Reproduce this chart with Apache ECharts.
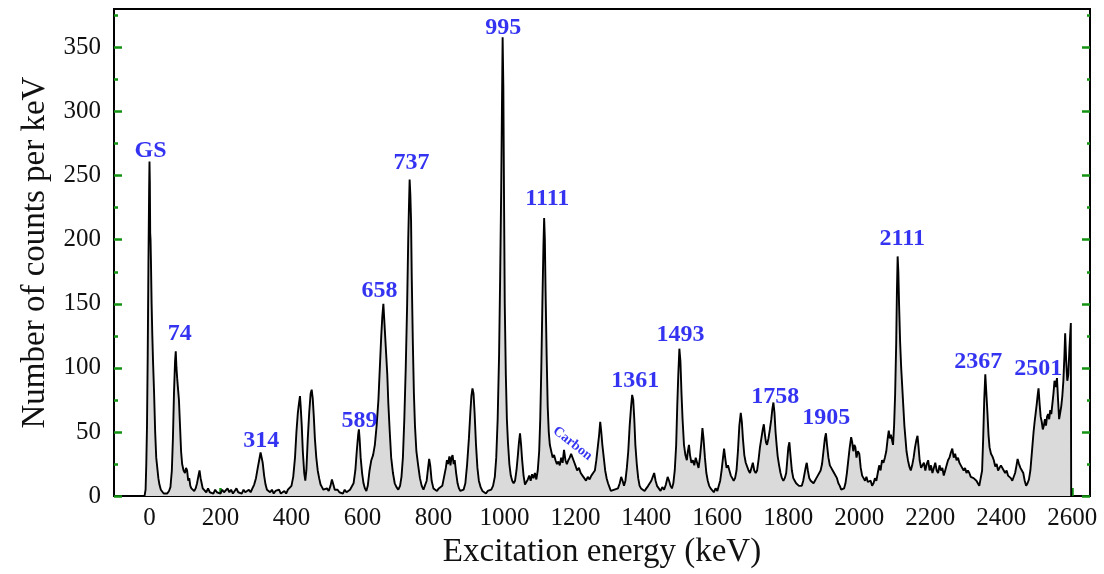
<!DOCTYPE html>
<html><head><meta charset="utf-8">
<script src="https://cdn.jsdelivr.net/npm/echarts@6/dist/echarts.min.js"></script>
<style>html,body{margin:0;padding:0;background:#fff}#c{width:1104px;height:574px}</style>
</head><body><div id="c"></div>
<script>
const xMajorTicks = [0,200,400,600,800,1000,1200,1400,1600,1800,2000,2200,2400,2600];
const xMinorTicks = [100,300,500,700,900,1100,1300,1500,1700,1900,2100,2300,2500];
const yMajorTicks = [0,50,100,150,200,250,300,350];
const yMinorTicks = [25,75,125,175,225,275,325,375];

// [excitation energy (keV), counts per keV]
const spectrum = [
[-14,0],[-11,5],[-9,25],[-7,55],[-5,110],[-3,180],[-1,240],[0,261],[1,245],[2,205],[3,200],[4,185],[6,150],[8,125],[10,105],[13,80],[16,50],[19,30],[22,22],[25,14],[28,9],[32,5],[36,4],[40,2],[45,3],[50,2],[55,4],[59,7],[63,20],[66,45],[69,80],[72,105],[74,113],[76,100],[78,92],[80,85],[83,75],[86,55],[89,35],[92,25],[96,20],
[100,18],[103,22],[106,20],[109,12],[112,14],[115,8],[118,6],[122,5],[126,4],[130,6],[134,10],[138,16],[141,20],[144,14],[147,10],[150,6],[155,5],[160,3],[165,6],[170,3],[175,4],[180,2],[185,5],[190,3],[195,4],
[200,2],[205,5],[210,3],[215,4],[220,6],[225,3],[230,5],[235,2],[240,4],[245,6],[250,3],[255,4],[260,2],[265,5],[270,3],[275,4],[280,5],[285,3],[290,6],[295,9],
[300,14],[305,22],[309,28],[313,34],[316,33],[319,26],[323,16],[327,9],[331,5],[335,4],[340,3],[345,5],[350,2],[355,4],[360,3],[365,5],[370,2],[375,3],[380,4],[385,2],[390,5],[395,4],
[400,8],[405,15],[410,30],[414,50],[418,65],[421,72],[424,78],[426,70],[429,55],[432,35],[436,18],[439,12],[442,20],[446,45],[450,65],[454,80],[457,83],[460,76],[463,62],[466,45],[470,30],[474,20],[478,14],[482,9],[486,7],[490,5],[495,4],
[500,6],[505,4],[510,8],[514,13],[518,9],[522,5],[526,4],[530,5],[535,3],[540,4],[545,2],[550,5],[555,3],[560,4],[565,5],[570,6],[575,10],[580,20],[584,35],[588,48],[590,52],[592,45],[595,30],[599,18],
[603,10],[607,6],[611,4],[615,8],[620,20],[625,28],[630,32],[635,40],[640,55],[645,75],[649,100],[653,125],[656,140],[659,150],[661,140],[664,125],[667,110],[670,95],[673,72],[677,50],[681,30],[686,18],[691,10],[696,7],
[701,5],[706,8],[710,15],[714,30],[718,60],[722,100],[726,150],[729,200],[731,225],[733,247],[735,235],[737,215],[739,170],[742,120],[745,80],[748,55],[752,35],[757,24],[762,14],[767,8],[772,5],[777,6],[781,12],[785,22],[788,29],[791,24],[795,12],
[800,6],[805,5],[810,4],[815,6],[820,5],[825,8],[830,15],[835,22],[838,28],[841,25],[845,31],[848,24],[851,30],[854,32],[857,25],[860,28],[864,18],[868,10],[872,6],[876,4],[880,3],[885,5],[890,10],[895,25],
[900,45],[904,65],[907,78],[910,84],[913,80],[916,65],[920,40],[924,22],[928,12],[933,7],[938,4],[943,3],[948,2],[953,4],[958,3],[963,5],[968,8],[973,15],[977,30],[981,60],[985,110],[988,170],[991,240],[993,300],[995,358],[997,320],[999,230],
[1001,150],[1004,95],[1007,60],[1010,42],[1014,25],[1018,16],[1022,12],[1026,10],[1030,12],[1034,20],[1038,32],[1041,42],[1044,49],[1047,40],[1050,28],[1054,16],[1058,9],[1062,8],[1066,13],[1070,16],[1074,12],[1078,17],[1082,14],[1086,18],[1090,13],[1094,20],[1098,35],
[1101,60],[1104,100],[1107,150],[1110,195],[1112,217],[1114,200],[1116,160],[1119,110],[1122,70],[1125,50],[1128,40],[1132,35],[1136,30],[1140,32],[1144,28],[1148,25],[1152,27],[1156,24],[1160,30],[1164,26],[1168,36],[1172,28],[1176,25],[1180,28],[1184,30],[1188,33],[1192,32],[1196,27],
[1200,24],[1205,20],[1210,22],[1215,18],[1220,16],[1225,14],[1230,12],[1235,15],[1240,13],[1245,16],[1250,18],[1255,20],[1259,28],[1263,38],[1267,48],[1270,58],[1273,50],[1276,40],[1280,30],[1284,20],[1288,14],[1292,10],[1296,7],
[1300,4],[1305,3],[1310,5],[1315,4],[1320,6],[1325,10],[1329,15],[1333,12],[1337,8],[1341,12],[1345,22],[1349,35],[1353,55],[1357,70],[1360,79],[1363,75],[1366,60],[1369,40],[1373,25],[1377,14],[1381,8],[1385,6],[1390,5],[1395,4],
[1400,6],[1405,8],[1410,7],[1414,12],[1418,15],[1422,18],[1426,12],[1430,8],[1435,6],[1440,4],[1445,7],[1450,5],[1455,9],[1460,15],[1464,12],[1468,8],[1472,6],[1476,10],[1480,20],[1484,40],[1487,70],[1490,95],[1493,115],[1496,105],[1499,80],
[1502,60],[1506,40],[1510,32],[1514,28],[1517,35],[1520,40],[1523,32],[1527,26],[1531,28],[1535,24],[1539,30],[1543,26],[1547,22],[1551,30],[1555,42],[1558,53],[1561,45],[1565,30],[1569,18],[1573,12],[1577,8],[1581,6],[1585,5],[1590,3],[1595,6],
[1600,4],[1604,8],[1608,12],[1612,20],[1616,30],[1619,37],[1622,30],[1626,22],[1630,24],[1634,20],[1638,16],[1642,14],[1646,12],[1650,14],[1654,20],[1658,35],[1662,55],[1666,65],[1669,58],[1672,45],[1676,32],[1680,26],[1684,23],[1688,20],[1692,18],[1696,22],
[1700,26],[1704,20],[1708,18],[1712,20],[1716,28],[1720,38],[1724,45],[1728,52],[1731,56],[1734,48],[1737,42],[1740,40],[1744,45],[1748,52],[1752,60],[1755,68],[1758,73],[1761,65],[1764,50],[1767,40],[1770,31],[1774,24],[1778,18],[1782,14],[1786,12],[1790,14],[1794,18],[1797,28],
[1800,38],[1803,42],[1806,32],[1810,20],[1814,14],[1818,12],[1822,10],[1826,9],[1830,8],[1834,7],[1838,8],[1842,12],[1846,18],[1850,24],[1852,26],[1855,20],[1859,14],[1863,12],[1867,13],[1871,10],[1875,12],[1879,14],[1883,16],[1887,17],[1891,20],[1895,25],[1899,35],
[1903,45],[1906,49],[1909,40],[1913,30],[1917,24],[1921,22],[1925,20],[1929,18],[1933,19],[1937,14],[1941,10],[1945,8],[1949,5],[1953,4],[1957,6],[1961,10],[1965,18],[1969,28],[1973,38],[1977,46],[1980,42],[1983,35],[1986,40],[1989,38],[1992,30],[1996,35],
[2000,33],[2004,22],[2008,16],[2012,14],[2016,12],[2020,15],[2024,11],[2028,10],[2032,12],[2036,8],[2040,10],[2044,14],[2048,12],[2052,18],[2056,24],[2060,20],[2064,28],[2068,26],[2072,30],[2076,35],[2080,45],[2083,51],[2086,45],[2089,48],[2092,44],[2095,40],[2098,55],
[2101,80],[2104,120],[2106,160],[2108,187],[2110,175],[2112,150],[2115,120],[2118,100],[2121,85],[2124,70],[2127,55],[2130,45],[2133,35],[2137,28],[2141,23],[2145,20],[2149,24],[2153,30],[2157,38],[2161,44],[2164,47],[2167,38],[2170,28],[2174,22],[2178,22],[2182,26],[2186,20],[2190,25],[2194,28],[2198,20],
[2202,24],[2206,18],[2210,22],[2214,26],[2218,20],[2222,18],[2226,24],[2230,20],[2234,22],[2238,16],[2242,20],[2246,24],[2250,28],[2254,30],[2258,34],[2262,37],[2266,30],[2270,33],[2274,28],[2278,30],[2282,26],[2286,24],[2290,23],[2294,20],[2298,22],
[2302,18],[2306,20],[2310,18],[2314,15],[2318,16],[2322,14],[2326,13],[2330,12],[2334,10],[2338,8],[2342,8],[2346,20],[2349,45],[2352,75],[2355,95],[2358,80],[2361,65],[2364,48],[2367,38],[2371,33],[2375,31],[2379,28],[2383,23],[2387,25],[2391,20],[2395,22],[2399,24],
[2403,23],[2407,20],[2411,18],[2415,20],[2419,16],[2423,15],[2427,14],[2431,12],[2435,13],[2439,18],[2443,24],[2446,29],[2450,25],[2454,22],[2458,20],[2462,18],[2466,12],[2470,8],[2474,10],[2478,13],[2482,20],[2485,30],[2488,40],[2491,50],[2494,58],[2497,65],[2500,72],
[2503,80],[2505,84],[2508,72],[2511,62],[2514,58],[2517,52],[2520,55],[2523,60],[2526,55],[2529,62],[2532,64],[2535,60],[2538,67],[2541,64],[2544,72],[2547,80],[2550,90],[2553,85],[2557,92],[2560,75],[2563,60],[2566,65],[2569,70],[2572,78],[2575,90],[2578,110],[2580,127],[2583,105],[2586,90],[2589,95],[2592,115],[2594,125],[2596,135],[2597,0]
];

// [energy, counts, text] — where each level label sits
const peakLabels = [
[3,269,'GS'],[85,127,'74'],[315,43,'314'],[592,59,'589'],[648,160,'658'],[738,260,'737'],[997,365,'995'],
[1121,232,'1111'],[1369,90,'1361'],[1496,126,'1493'],[1763,77.5,'1758'],[1907,61,'1905'],[2121,201,'2111'],[2335,105,'2367'],[2504,99,'2501']
];
const carbonLabel = [1192,41,'Carbon'];

const font = '"Liberation Serif","Times New Roman",serif';
const green = '#139313';
const blue = '#0000ee';
const chart = echarts.init(document.getElementById('c'), null, {renderer:'canvas'});
const xBase = {type:'value', min:-100, max:2650, position:'bottom', splitLine:{show:false}};
const yBase = {type:'value', min:0, max:380, splitLine:{show:false}};
const noLine = {show:false, onZero:false};

chart.setOption({
  animation:false,
  grid:{left:114,right:14,top:9,bottom:75,show:true,borderColor:'#000',borderWidth:2},
  xAxis:[
    Object.assign({}, xBase, {
      name:'Excitation energy (keV)', nameLocation:'middle', nameGap:36,
      nameTextStyle:{fontFamily:font,fontSize:33,color:'#111'},
      axisLine:{show:true,onZero:false,lineStyle:{color:'#000',width:2}},
      axisTick:{show:true,inside:true,length:8,customValues:xMajorTicks,lineStyle:{color:green,width:2.5}},
      axisLabel:{customValues:xMajorTicks,formatter:v=>String(v),fontFamily:font,fontSize:25,color:'#111',margin:10}
    }),
    Object.assign({}, xBase, {
      axisLine:noLine,
      axisTick:{show:true,inside:true,length:4,customValues:xMinorTicks,lineStyle:{color:green,width:2.5}},
      axisLabel:{show:false}
    })
  ],
  yAxis:[
    Object.assign({}, yBase, {
      position:'left',
      name:'Number of counts per keV', nameLocation:'middle', nameGap:62,
      nameTextStyle:{fontFamily:font,fontSize:33,color:'#111'},
      axisLine:{show:true,onZero:false,lineStyle:{color:'#000',width:2}},
      axisTick:{show:true,inside:true,length:8,customValues:yMajorTicks,lineStyle:{color:green,width:2.5}},
      axisLabel:{customValues:yMajorTicks,formatter:v=>String(v),fontFamily:font,fontSize:25,color:'#111',margin:13}
    }),
    Object.assign({}, yBase, {
      position:'left', axisLine:noLine,
      axisTick:{show:true,inside:true,length:4,customValues:yMinorTicks,lineStyle:{color:green,width:2.5}},
      axisLabel:{show:false}
    }),
    Object.assign({}, yBase, {
      position:'right', axisLine:noLine,
      axisTick:{show:true,inside:true,length:8,customValues:yMajorTicks,lineStyle:{color:green,width:2.5}},
      axisLabel:{show:false}
    }),
    Object.assign({}, yBase, {
      position:'right', axisLine:noLine,
      axisTick:{show:true,inside:true,length:3,customValues:yMinorTicks,lineStyle:{color:green,width:2.5}},
      axisLabel:{show:false}
    })
  ],
  series:[
    {
      type:'line', xAxisIndex:0, yAxisIndex:0, data:spectrum, showSymbol:false, symbol:'none',
      lineStyle:{color:'#000',width:1.9}, areaStyle:{color:'#dadada',opacity:1}, silent:true, z:2
    },
    {
      type:'scatter', xAxisIndex:0, yAxisIndex:0, symbolSize:1, itemStyle:{color:'rgba(0,0,0,0)'}, silent:true, z:5,
      data: peakLabels.map(p=>({value:[p[0],p[1]],name:p[2]})).concat([{
        value:[carbonLabel[0],carbonLabel[1]], name:carbonLabel[2],
        label:{fontSize:14,rotate:-38}
      }]),
      label:{show:true,position:'inside',formatter:'{b}',fontFamily:font,fontWeight:'bold',fontSize:24,color:blue}
    }
  ]
});
</script>
</body></html>
